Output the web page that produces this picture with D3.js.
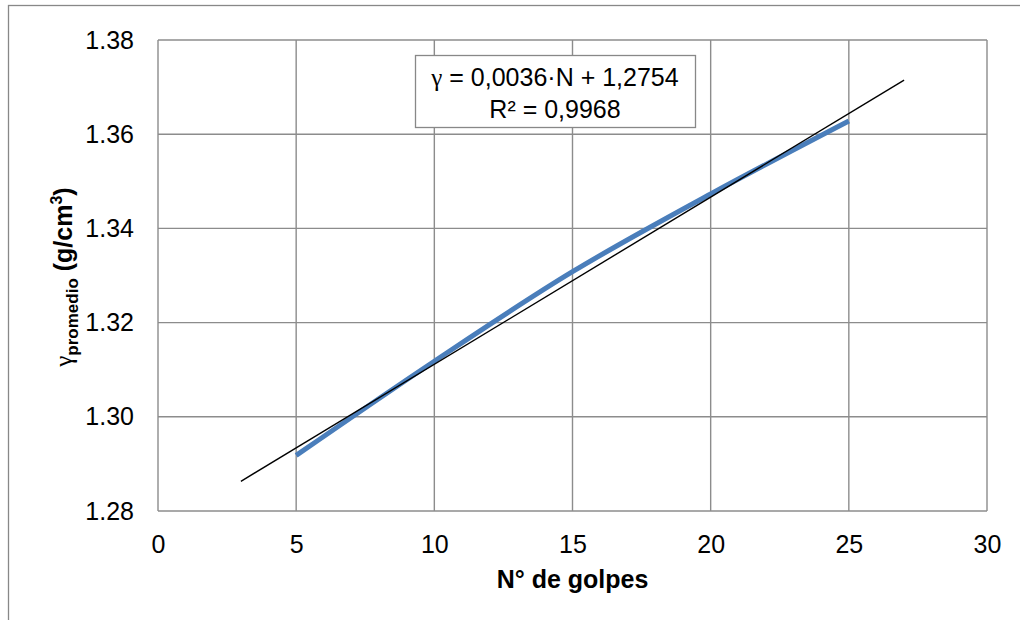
<!DOCTYPE html>
<html>
<head>
<meta charset="utf-8">
<script src="https://cdn.jsdelivr.net/npm/d3@7"></script>
<style>
  body { margin: 0; background: #fff; }
  svg text { font-family: "Liberation Sans", Arial, sans-serif; fill: #000; }
  .sym { font-family: "Liberation Serif", "DejaVu Serif", serif; }
</style>
</head>
<body>
<div id="chart"></div>
<script>
// data
const golpes = [5, 10, 15, 20, 25]
const gammaProm = [1.2918, 1.3118, 1.3308, 1.3473, 1.3628]
const xTicks = [0, 5, 10, 15, 20, 25, 30]
const yTicks = [1.28, 1.30, 1.32, 1.34, 1.36, 1.38]
const trendRange = [3, 27]
const eqLine1 = " = 0,0036·N + 1,2754"
const eqLine2 = "R² = 0,9968"

const W = 1020, H = 620
const margin = {top: 40, right: 33, bottom: 109, left: 158}
const width = W - margin.left - margin.right
const height = H - margin.top - margin.bottom

// least squares fit for the trendline
const mx = d3.mean(golpes), my = d3.mean(gammaProm)
const slope = d3.sum(golpes, (n, i) => (n - mx) * (gammaProm[i] - my)) /
              d3.sum(golpes, n => (n - mx) ** 2)
const intercept = my - slope * mx

const svg = d3.select("#chart").append("svg")
    .attr("width", W)
    .attr("height", H)

// outer chart frame
svg.append("rect")
    .attr("x", 8.5).attr("y", 5.5)
    .attr("width", W).attr("height", H)
    .attr("fill", "none")
    .attr("stroke", "#888")
    .attr("stroke-width", 1.3)

const g = svg.append("g")
    .attr("transform", `translate(${margin.left}, ${margin.top})`)

const x = d3.scaleLinear().domain([0, 30]).range([0, width])
const y = d3.scaleLinear().domain([1.28, 1.38]).range([height, 0])

// gridlines
g.append("g").selectAll("line")
    .data(xTicks)
    .enter().append("line")
        .attr("x1", d => x(d)).attr("x2", d => x(d))
        .attr("y1", 0).attr("y2", height)
        .attr("stroke", "#8c8c8c").attr("stroke-width", 1.4)

g.append("g").selectAll("line")
    .data(yTicks)
    .enter().append("line")
        .attr("x1", 0).attr("x2", width)
        .attr("y1", d => y(d)).attr("y2", d => y(d))
        .attr("stroke", "#8c8c8c").attr("stroke-width", 1.4)

// axes (labels only)
const xAxis = g.append("g")
    .attr("transform", `translate(0, ${height})`)
    .call(d3.axisBottom(x).tickValues(xTicks).tickSize(0).tickPadding(24).tickFormat(d3.format("d")))
const yAxis = g.append("g")
    .call(d3.axisLeft(y).tickValues(yTicks).tickSize(0).tickPadding(24).tickFormat(d3.format(".2f")))

for (const ax of [xAxis, yAxis]) {
    ax.select(".domain").remove()
    ax.selectAll("text")
        .style("font-family", "'Liberation Sans', Arial, sans-serif")
        .style("font-size", "25px")
        .attr("fill", "#000")
}

// data line (smoothed)
const pts = golpes.map((n, i) => [n, gammaProm[i]])
g.append("path")
    .datum(pts)
    .attr("fill", "none")
    .attr("stroke", "#4a7ebb")
    .attr("stroke-width", 5)
    .attr("d", d3.line()
        .x(d => x(d[0]))
        .y(d => y(d[1]))
        .curve(d3.curveCatmullRom.alpha(0.5)))

// linear trendline
const trend = trendRange.map(n => [n, slope * n + intercept])
g.append("path")
    .datum(trend)
    .attr("fill", "none")
    .attr("stroke", "#000")
    .attr("stroke-width", 1.4)
    .attr("d", d3.line().x(d => x(d[0])).y(d => y(d[1])))

// equation box
const box = svg.append("g")
box.append("rect")
    .attr("x", 415.5).attr("y", 55.5)
    .attr("width", 280).attr("height", 72)
    .attr("fill", "#fff")
    .attr("stroke", "#888")
    .attr("stroke-width", 1.3)
const eq1 = box.append("text")
    .attr("x", 555).attr("y", 86)
    .attr("text-anchor", "middle")
    .attr("font-size", "25px")
eq1.append("tspan").attr("class", "sym").text("γ")
eq1.append("tspan").text(eqLine1)
box.append("text")
    .attr("x", 555).attr("y", 118)
    .attr("text-anchor", "middle")
    .attr("font-size", "25px")
    .text(eqLine2)

// axis titles
svg.append("text")
    .attr("x", margin.left + width / 2)
    .attr("y", 588)
    .attr("text-anchor", "middle")
    .attr("font-size", "25px")
    .attr("font-weight", "bold")
    .text("N° de golpes")

const yTitle = svg.append("text")
    .attr("transform", "translate(72, 277) rotate(-90)")
    .attr("text-anchor", "middle")
    .attr("font-size", "25px")
    .attr("font-weight", "bold")
yTitle.append("tspan").attr("class", "sym").attr("font-weight", "normal").text("γ")
yTitle.append("tspan").attr("font-size", "17px").attr("dy", 6).text("promedio")
yTitle.append("tspan").attr("dy", -6).text(" (g/cm")
yTitle.append("tspan").attr("font-size", "16px").attr("dy", -10).text("3")
yTitle.append("tspan").attr("dy", 10).text(")")
</script>
</body>
</html>
